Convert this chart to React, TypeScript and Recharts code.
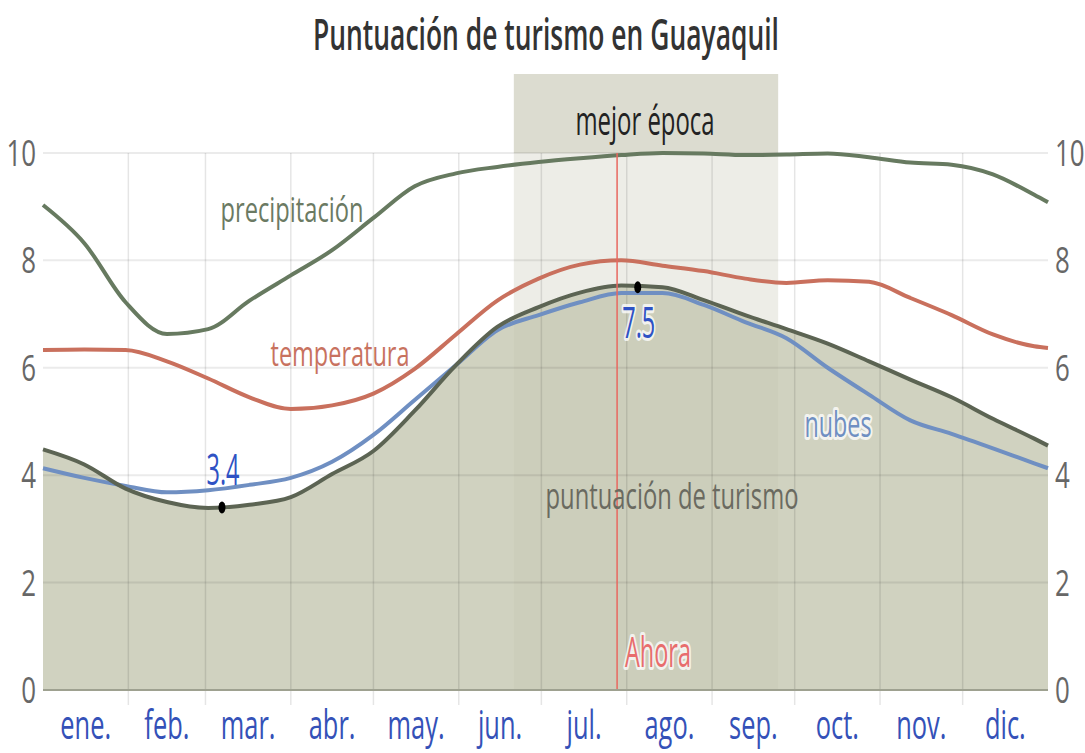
import React from 'react';
import {
  ComposedChart,
  Area,
  Line,
  XAxis,
  YAxis,
  ReferenceLine,
  ReferenceArea,
  ReferenceDot,
} from 'recharts';

// day of year for every sample
const days = [0, 15, 30, 45, 60, 75, 90, 105, 120, 135, 150, 165, 180, 195, 210, 225, 240, 255, 270, 285, 300, 315, 330, 345, 360, 365];
const precipitacion = [9.03, 8.32, 7.22, 6.63, 6.72, 7.25, 7.72, 8.19, 8.79, 9.38, 9.62, 9.74, 9.83, 9.9, 9.96, 10.0, 9.99, 9.96, 9.97, 9.99, 9.92, 9.82, 9.78, 9.6, 9.22, 9.08];
const temperatura = [6.33, 6.34, 6.33, 6.12, 5.8, 5.45, 5.23, 5.3, 5.52, 5.98, 6.62, 7.25, 7.66, 7.92, 8.0, 7.9, 7.8, 7.66, 7.58, 7.63, 7.6, 7.3, 6.98, 6.62, 6.4, 6.37];
const nubes = [4.13, 3.95, 3.8, 3.68, 3.72, 3.82, 3.95, 4.25, 4.75, 5.4, 6.05, 6.7, 6.98, 7.22, 7.39, 7.39, 7.17, 6.85, 6.55, 6.0, 5.5, 5.02, 4.77, 4.5, 4.22, 4.13];
const turismo = [4.48, 4.2, 3.75, 3.5, 3.39, 3.45, 3.59, 4.02, 4.45, 5.2, 6.05, 6.76, 7.13, 7.4, 7.53, 7.5, 7.26, 6.98, 6.72, 6.45, 6.12, 5.78, 5.45, 5.05, 4.68, 4.55];

const monthNames = ['ene.', 'feb.', 'mar.', 'abr.', 'may.', 'jun.', 'jul.', 'ago.', 'sep.', 'oct.', 'nov.', 'dic.'];
const monthStarts = [0, 31, 59, 90, 120, 151, 181, 212, 243, 273, 304, 334, 365];
const monthMids = [15.5, 45, 74.5, 105, 135.5, 166, 196.5, 227.5, 258, 288.5, 319, 349.5];
const yTicks = [0, 2, 4, 6, 8, 10];

const mejorEpoca = [171, 267];
const ahora = 208.5;
const minPoint = { day: 65, value: 3.4 };
const maxPoint = { day: 216, value: 7.5 };

const data = days.map((d, i) => ({
  day: d,
  precipitacion: precipitacion[i],
  temperatura: temperatura[i],
  nubes: nubes[i],
  turismo: turismo[i],
}));

const FONT = '"Open Sans", "Noto Sans", sans-serif';
const Y_TOP = 11.47;

function LeftTick({ x, y, payload }: any) {
  return (
    <text
      transform={`translate(${x + 1},${y + 13}) scale(0.7,1)`}
      textAnchor="end"
      fontSize={37}
      fontFamily={FONT}
      fill="#676767"
    >
      {payload.value}
    </text>
  );
}

function RightTick({ x, y, payload }: any) {
  return (
    <text
      transform={`translate(${x - 1},${y + 13}) scale(0.7,1)`}
      textAnchor="start"
      fontSize={37}
      fontFamily={FONT}
      fill="#676767"
    >
      {payload.value}
    </text>
  );
}

function MonthTick({ x, y, payload }: any) {
  const i = monthMids.indexOf(payload.value);
  return (
    <text
      transform={`translate(${x},${y + 41}) scale(0.62,1)`}
      textAnchor="middle"
      fontSize={41}
      fontFamily={FONT}
      fill="#3451b8"
    >
      {monthNames[i]}
    </text>
  );
}

function Label({ x, y, w, size, color, children, weight = 400, halo = false }: any) {
  return (
    <text
      x={x}
      y={y}
      textAnchor="middle"
      fontSize={size}
      fontFamily={FONT}
      fontWeight={weight}
      fill={color}
      textLength={w}
      lengthAdjust="spacingAndGlyphs"
      stroke={halo ? 'rgba(255,255,255,0.75)' : 'none'}
      strokeWidth={halo ? 6 : 0}
      strokeLinejoin="round"
      paintOrder="stroke"
    >
      {children}
    </text>
  );
}

function dotShape(text: string, above: boolean) {
  return (p: any) => (
    <g>
      <ellipse cx={p.cx} cy={p.cy} rx={3.5} ry={6} fill="#000" />
      <Label x={p.cx + 1} y={above ? p.cy - 22 : p.cy + 51} w={33} size={44} color="#2f52c4" halo={!above}>
        {text}
      </Label>
    </g>
  );
}

export default function App() {
  return (
    <div style={{ position: 'absolute', left: 0, top: 0, width: 1085, height: 753, background: '#fff' }}>
      <ComposedChart width={1085} height={753} data={data} margin={{ top: 74, right: 0, bottom: 0, left: 0 }}>
        <XAxis
          type="number"
          dataKey="day"
          domain={[0, 365]}
          ticks={monthMids}
          tick={<MonthTick />}
          tickLine={false}
          axisLine={{ stroke: '#9ea190', strokeWidth: 2 }}
          height={63}
          interval={0}
        />
        <YAxis yAxisId="l" domain={[0, Y_TOP]} ticks={yTicks} tick={<LeftTick />} axisLine={false} tickLine={false} width={43} allowDataOverflow />
        <YAxis yAxisId="r" orientation="right" domain={[0, Y_TOP]} ticks={yTicks} tick={<RightTick />} axisLine={false} tickLine={false} width={37} allowDataOverflow />

        <ReferenceArea yAxisId="l" x1={mejorEpoca[0]} x2={mejorEpoca[1]} y1={0} y2={10} fill="#ededE7" fillOpacity={1} stroke="none" />
        <ReferenceArea yAxisId="l" x1={mejorEpoca[0]} x2={mejorEpoca[1]} y1={10} y2={Y_TOP} fill="#dcdcd0" fillOpacity={1} stroke="none" />

        {yTicks.slice(1).map((t) => (
          <ReferenceLine key={'h' + t} yAxisId="l" y={t} stroke="#000" strokeOpacity={0.08} strokeWidth={2} />
        ))}
        {monthStarts.slice(1, 12).map((d) => (
          <ReferenceLine
            key={'v' + d}
            yAxisId="l"
            segment={[{ x: d, y: -0.28 }, { x: d, y: 10 }]}
            stroke="#000"
            strokeOpacity={0.1}
            strokeWidth={1.5}
            ifOverflow="visible"
          />
        ))}

        <Area yAxisId="l" type="monotone" dataKey="turismo" stroke="none" fill="#c3c6af" fillOpacity={0.79} isAnimationActive={false} />
        <Line yAxisId="l" type="monotone" dataKey="precipitacion" stroke="#677a60" strokeWidth={4} dot={false} isAnimationActive={false} />
        <Line yAxisId="l" type="monotone" dataKey="temperatura" stroke="#c9705d" strokeWidth={4} dot={false} isAnimationActive={false} />
        <Line yAxisId="l" type="monotone" dataKey="nubes" stroke="#6f8fc2" strokeWidth={4} dot={false} isAnimationActive={false} />
        <Line yAxisId="l" type="monotone" dataKey="turismo" stroke="#5c6453" strokeWidth={4} dot={false} isAnimationActive={false} />

        <ReferenceLine
          yAxisId="l"
          segment={[{ x: ahora, y: 0 }, { x: ahora, y: 10 }]}
          stroke="#e8675f"
          strokeWidth={1.5}
        />
        <ReferenceDot yAxisId="l" x={minPoint.day} y={minPoint.value} r={4} shape={dotShape(String(minPoint.value), true)} />
        <ReferenceDot yAxisId="l" x={maxPoint.day} y={maxPoint.value} r={4} shape={dotShape(String(maxPoint.value), false)} />
      </ComposedChart>

      <svg width={1085} height={753} style={{ position: 'absolute', left: 0, top: 0, pointerEvents: 'none' }}>
        <text
          transform="translate(546,50) scale(0.56,1)"
          textAnchor="middle"
          fontSize={44}
          fontFamily={FONT}
          fontWeight={600}
          fill="#333"
          textLength={832}
          lengthAdjust="spacingAndGlyphs"
        >
          Puntuación de turismo en Guayaquil
        </text>
        <Label x={645} y={135} w={139} size={41} color="#222">
          mejor época
        </Label>
        <Label x={292} y={222} w={143} size={34} color="#6b7a63">
          precipitación
        </Label>
        <Label x={340} y={366} w={139} size={34} color="#c8725f">
          temperatura
        </Label>
        <Label x={838} y={437} w={67} size={36} color="#6f8fc2" halo>
          nubes
        </Label>
        <Label x={672} y={509} w={253} size={36} color="#6a6a60">
          puntuación de turismo
        </Label>
        <Label x={658} y={667} w={66} size={42} color="#e86d6d" halo>
          Ahora
        </Label>
      </svg>
    </div>
  );
}
